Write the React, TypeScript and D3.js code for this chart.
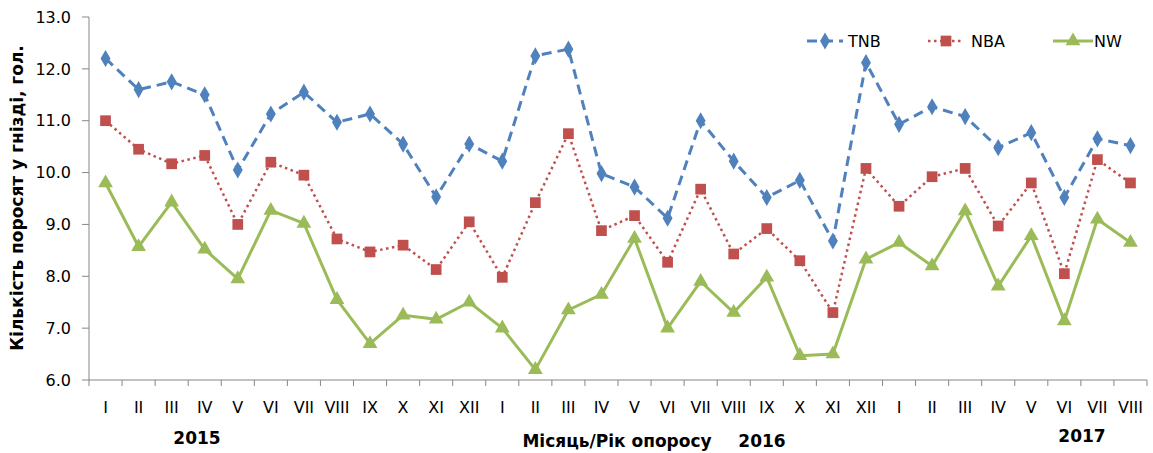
import React from "react";
import * as d3 from "d3";

const months = ["I","II","III","IV","V","VI","VII","VIII","IX","X","XI","XII","I","II","III","IV","V","VI","VII","VIII","IX","X","XI","XII","I","II","III","IV","V","VI","VII","VIII"];
const tnb = [12.2,11.6,11.75,11.5,10.05,11.13,11.55,10.97,11.13,10.55,9.53,10.55,10.22,12.25,12.38,9.98,9.72,9.12,11.0,10.22,9.52,9.85,8.68,12.12,10.93,11.27,11.08,10.48,10.77,9.52,10.65,10.52];
const nba = [11.0,10.45,10.17,10.33,9.0,10.2,9.95,8.72,8.47,8.6,8.13,9.05,7.98,9.42,10.75,8.88,9.17,8.27,9.68,8.43,8.92,8.3,7.3,10.08,9.35,9.92,10.08,8.97,9.8,8.05,10.25,9.8];
const nw = [9.8,8.57,9.43,8.52,7.95,9.27,9.02,7.55,6.7,7.25,7.17,7.5,7.0,6.2,7.35,7.65,8.73,7.0,7.9,7.3,7.98,6.47,6.5,8.33,8.65,8.2,9.26,7.81,8.78,7.14,9.1,8.65];
const yTicks = [6,7,8,9,10,11,12,13];
const years = [{ label: "2015", x: 197, y: 444 }, { label: "2016", x: 762, y: 447 }, { label: "2017", x: 1082, y: 442 }];

const W = 1153, H = 453;
const L = 89, R = 1147, T = 17, B = 380;
const FONT = "'DejaVu Sans', Verdana, sans-serif";

const idx = months.map((_, i) => i);
const x = d3.scaleBand<number>().domain(idx).range([L, R]);
const y = d3.scaleLinear().domain([6, 13]).range([B, T]);
const cx = (i: number) => (x(i) as number) + x.bandwidth() / 2;

const series = [
  { name: "TNB", data: tnb, color: "#4F81BD", dash: "10 6", width: 3, marker: "diamond", lx: 807, lx2: 843, tx: 848 },
  { name: "NBA", data: nba, color: "#C0504D", dash: "2.5 3.5", width: 2.5, marker: "square", lx: 928, lx2: 964, tx: 971 },
  { name: "NW", data: nw, color: "#9BBB59", dash: "", width: 3, marker: "triangle", lx: 1053, lx2: 1093, tx: 1094 },
];

const symType: Record<string, d3.SymbolType> = {
  diamond: d3.symbolDiamond,
  square: d3.symbolSquare,
  triangle: d3.symbolTriangle,
};
const symSize: Record<string, number> = { diamond: 85, square: 115, triangle: 95 };

function Marker({ kind, px, py, color }: { kind: string; px: number; py: number; color: string }) {
  const p = d3.symbol().type(symType[kind]).size(symSize[kind])();
  return <path d={p || ""} transform={`translate(${px},${py})`} fill={color} />;
}

export default function App() {
  const line = d3.line<number>().x((_, i) => cx(i)).y((d) => y(d));
  return (
    <svg width={W} height={H} style={{ position: "absolute", left: 0, top: 0, background: "#fff" }} fontFamily={FONT}>
      {/* y axis */}
      <line x1={L} x2={L} y1={T} y2={B} stroke="#868686" strokeWidth={1} />
      {yTicks.map((t) => (
        <g key={t}>
          <line x1={L - 7} x2={L} y1={y(t)} y2={y(t)} stroke="#868686" />
          <text x={L - 18} y={y(t)} dy="0.36em" textAnchor="end" fontSize={16} fill="#000">{t.toFixed(1)}</text>
        </g>
      ))}
      {/* x axis */}
      <line x1={L} x2={R} y1={B} y2={B} stroke="#868686" strokeWidth={1} />
      {idx.concat([months.length]).map((i) => {
        const xx = i < months.length ? (x(i) as number) : R;
        return <line key={"t" + i} x1={xx} x2={xx} y1={B} y2={B + 6} stroke="#868686" />;
      })}
      {months.map((m, i) => (
        <text key={"m" + i} x={cx(i)} y={413} textAnchor="middle" fontSize={16} fill="#000">{m}</text>
      ))}
      {years.map((yr) => (
        <text key={yr.label} x={yr.x} y={yr.y} textAnchor="middle" fontSize={17} fontWeight="bold" fill="#000">{yr.label}</text>
      ))}
      <text x={617} y={447} textAnchor="middle" fontSize={17} fontWeight="bold" fill="#000">Місяць/Рік  опоросу</text>
      <text transform={`translate(23,${198}) rotate(-90)`} textAnchor="middle" fontSize={17} fontWeight="bold" fill="#000">Кількість поросят  у гнізді, гол.</text>
      {/* series */}
      {series.map((s) => (
        <g key={s.name}>
          <path d={line(s.data) || ""} fill="none" stroke={s.color} strokeWidth={s.width} strokeDasharray={s.dash} strokeLinejoin="round" />
          {s.data.map((v, i) => (
            <Marker key={i} kind={s.marker} px={cx(i)} py={y(v)} color={s.color} />
          ))}
        </g>
      ))}
      {/* legend */}
      {series.map((s) => (
        <g key={"lg" + s.name}>
          <line x1={s.lx} x2={s.lx2} y1={41} y2={41} stroke={s.color} strokeWidth={s.width} strokeDasharray={s.dash} />
          <Marker kind={s.marker} px={(s.lx + s.lx2) / 2} py={41} color={s.color} />
          <text x={s.tx} y={47} fontSize={16} fill="#000">{s.name}</text>
        </g>
      ))}
    </svg>
  );
}
